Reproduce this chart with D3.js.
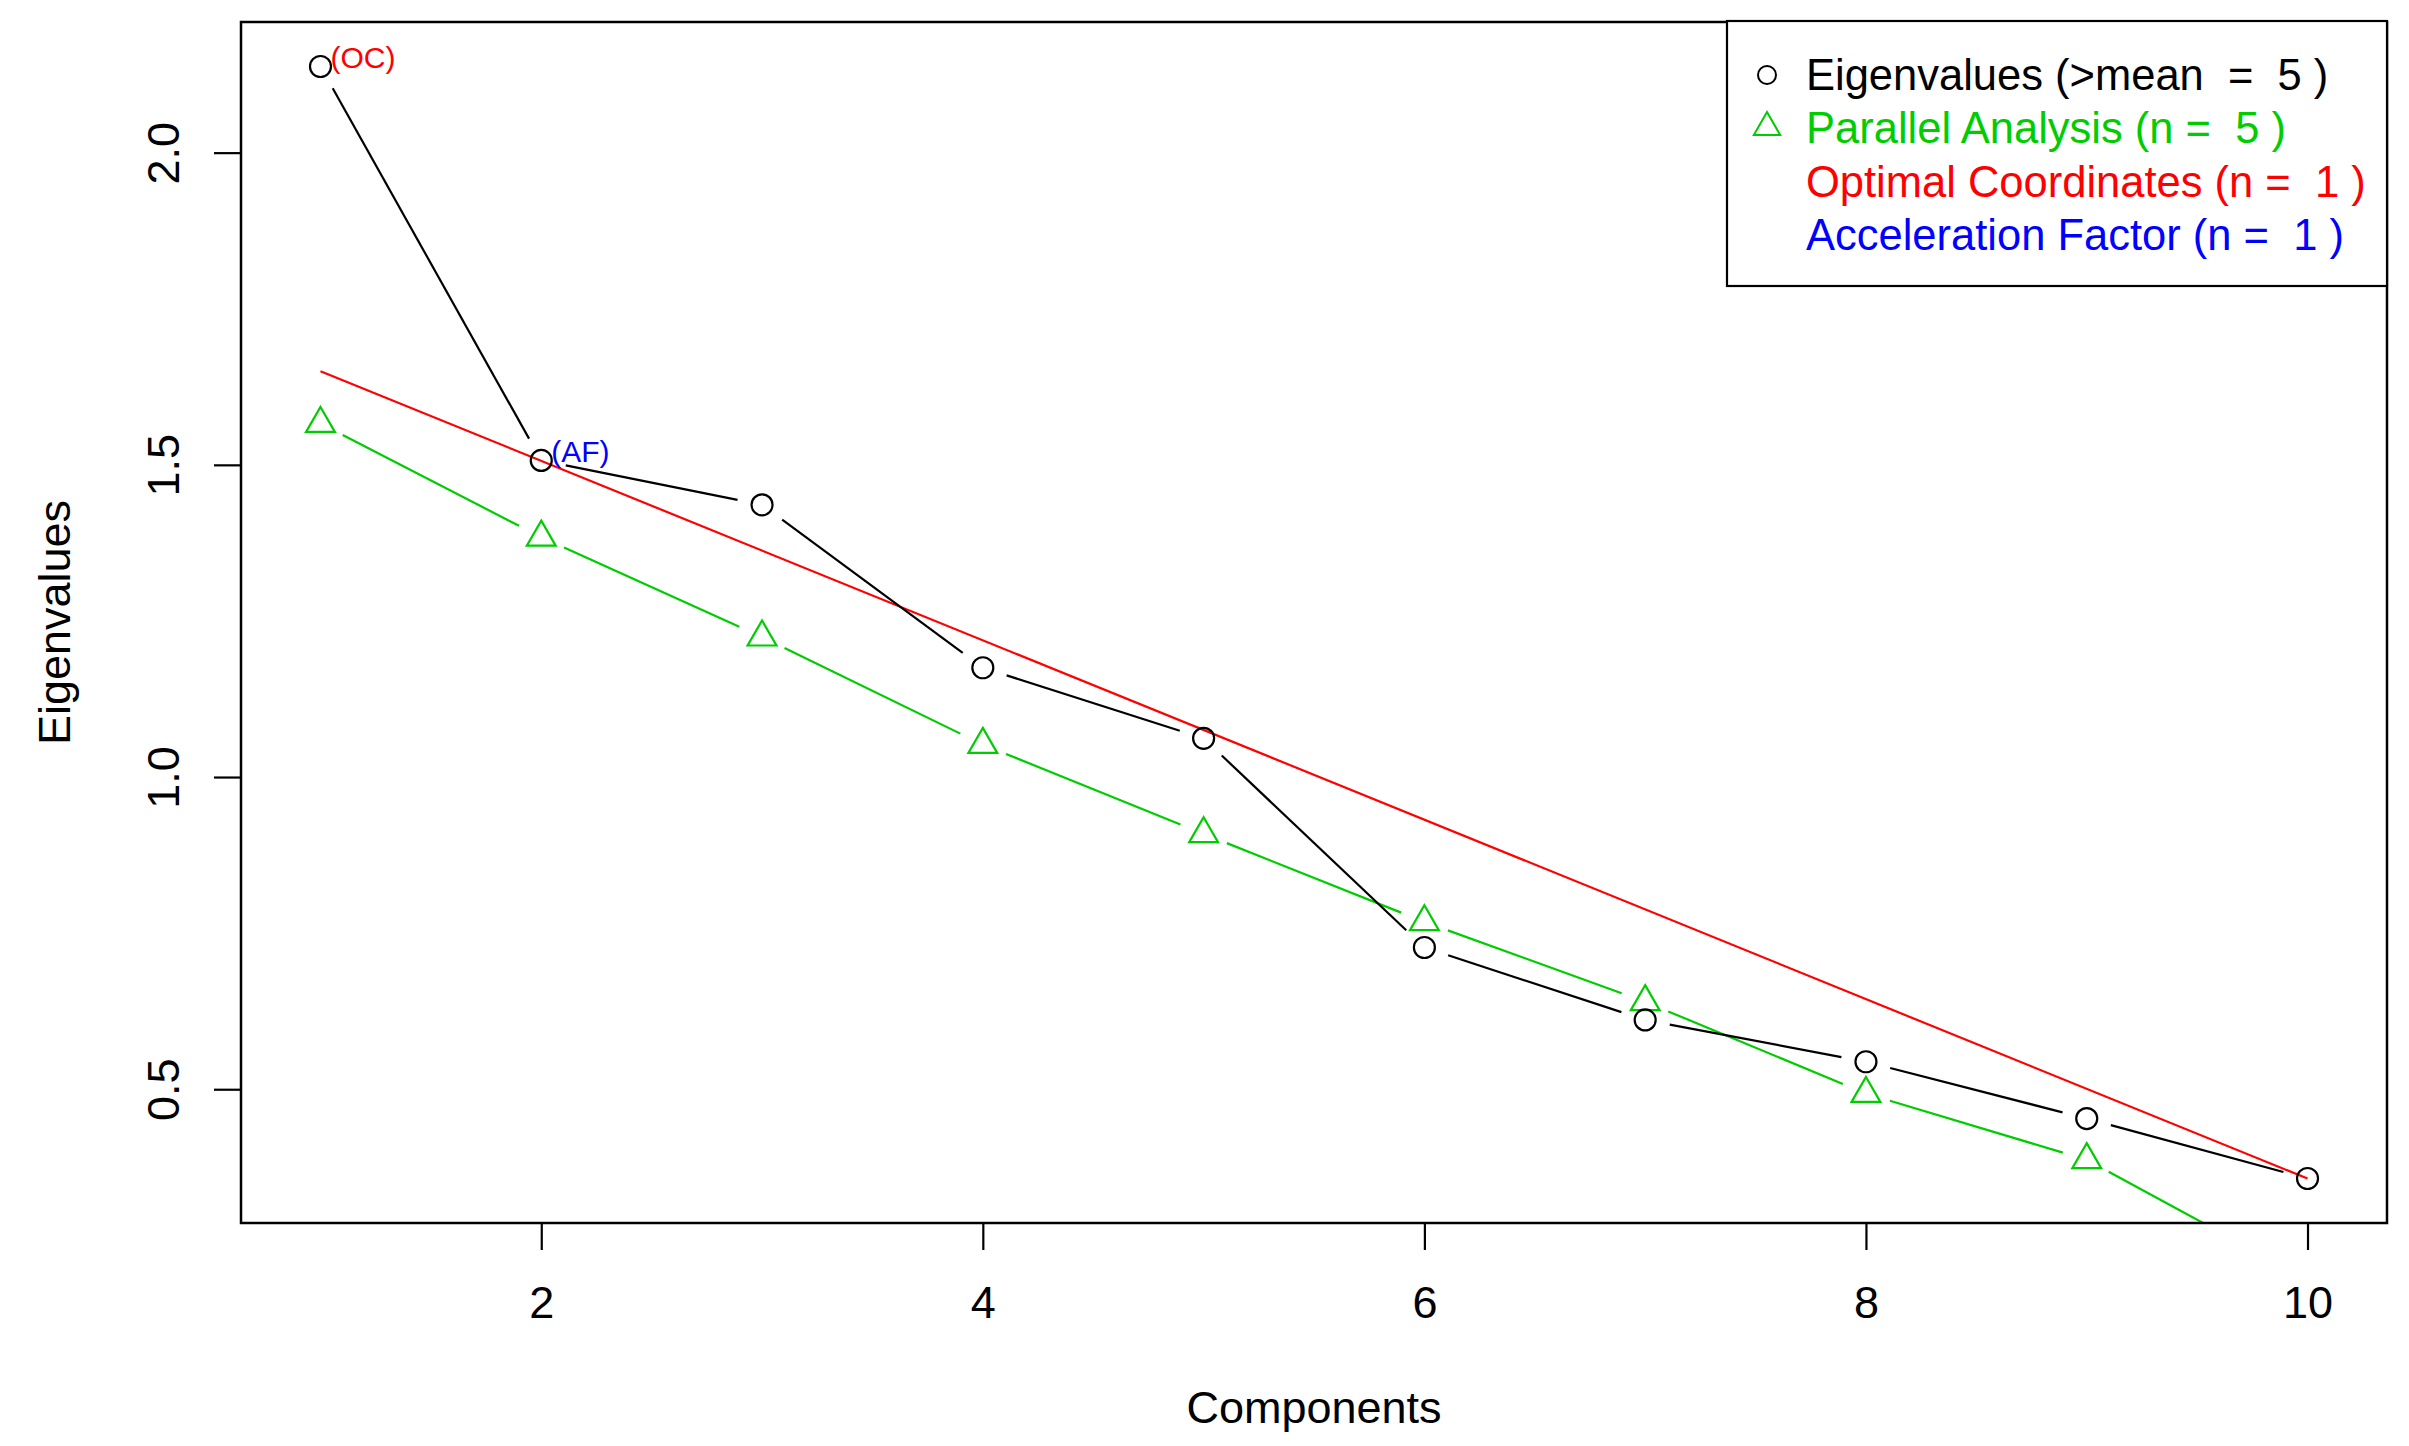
<!DOCTYPE html>
<html>
<head>
<meta charset="utf-8">
<script src="https://cdn.jsdelivr.net/npm/d3@7"></script>
<style>
  body { margin: 0; background: #fff; }
  svg text { font-family: "Liberation Sans", Arial, Helvetica, sans-serif; white-space: pre; }
</style>
</head>
<body>
<script>
// scree plot data
var components = [1, 2, 3, 4, 5, 6, 7, 8, 9, 10];
var eigenvalues = [2.138, 1.507, 1.436, 1.175, 1.062, 0.727, 0.611, 0.544, 0.453, 0.357];
var parallelAnalysis = [1.566, 1.384, 1.224, 1.052, 0.909, 0.768, 0.640, 0.493, 0.387, 0.195];
var ocComponents = [1, 10];
var ocValues = [1.650, 0.357];
var xTicks = [2, 4, 6, 8, 10];
var yTicks = [0.5, 1.0, 1.5, 2.0];
var legendLabels = [
  "Eigenvalues (>mean  =  5 )",
  "Parallel Analysis (n =  5 )",
  "Optimal Coordinates (n =  1 )",
  "Acceleration Factor (n =  1 )"
];
var legendColors = ["#000000", "#00cd00", "#ff0000", "#0000ff"];
var legendSymbols = ["circle", "triangle", null, null];

var width = 2409,
    height = 1446;
var plot = {left: 241, top: 22, right: 2387, bottom: 1223};

var svg = d3.select("body").append("svg")
  .attr("width", width)
  .attr("height", height);

// R style: data range padded 4% on each side
var xr = d3.extent(components), yr = d3.extent(eigenvalues);
var xpad = (xr[1] - xr[0]) * 0.04, ypad = (yr[1] - yr[0]) * 0.04;

var x = d3.scaleLinear()
  .domain([xr[0] - xpad, xr[1] + xpad])
  .range([plot.left, plot.right]);
var y = d3.scaleLinear()
  .domain([yr[0] - ypad, yr[1] + ypad])
  .range([plot.bottom, plot.top]);

svg.append("clipPath").attr("id", "clip")
  .append("rect")
  .attr("x", plot.left).attr("y", plot.top)
  .attr("width", plot.right - plot.left)
  .attr("height", plot.bottom - plot.top);

var g = svg.append("g").attr("clip-path", "url(#clip)");

// type="b" lines: segments with a gap around each point
function gappedSegments(xs, ys, gap) {
  var segs = [];
  for (var i = 0; i < xs.length - 1; i++) {
    var x0 = x(xs[i]), y0 = y(ys[i]), x1 = x(xs[i + 1]), y1 = y(ys[i + 1]);
    var len = Math.hypot(x1 - x0, y1 - y0);
    if (len <= 2 * gap) continue;
    var ux = (x1 - x0) / len, uy = (y1 - y0) / len;
    segs.push([x0 + ux * gap, y0 + uy * gap, x1 - ux * gap, y1 - uy * gap]);
  }
  return segs;
}

// OC line
g.append("line")
  .attr("x1", x(ocComponents[0])).attr("y1", y(ocValues[0]))
  .attr("x2", x(ocComponents[1])).attr("y2", y(ocValues[1]))
  .attr("stroke", "#ff0000")
  .attr("stroke-width", 2.2);

// parallel analysis
g.selectAll(".pa-seg")
  .data(gappedSegments(components, parallelAnalysis, 25))
  .enter().append("line")
  .attr("class", "pa-seg")
  .attr("x1", function(d) { return d[0]; })
  .attr("y1", function(d) { return d[1]; })
  .attr("x2", function(d) { return d[2]; })
  .attr("y2", function(d) { return d[3]; })
  .attr("stroke", "#00cd00")
  .attr("stroke-width", 2.2);

var tri = d3.symbol().type(d3.symbolTriangle).size(360);

g.selectAll(".pa-pt")
  .data(components.map(function(c, i) { return [c, parallelAnalysis[i]]; }))
  .enter().append("path")
  .attr("class", "pa-pt")
  .attr("d", tri)
  .attr("transform", function(d) { return "translate(" + x(d[0]) + "," + y(d[1]) + ")"; })
  .attr("fill", "none")
  .attr("stroke", "#00cd00")
  .attr("stroke-width", 2.2);

// eigenvalues
g.selectAll(".ev-seg")
  .data(gappedSegments(components, eigenvalues, 25))
  .enter().append("line")
  .attr("class", "ev-seg")
  .attr("x1", function(d) { return d[0]; })
  .attr("y1", function(d) { return d[1]; })
  .attr("x2", function(d) { return d[2]; })
  .attr("y2", function(d) { return d[3]; })
  .attr("stroke", "#000")
  .attr("stroke-width", 2.2);

g.selectAll(".ev-pt")
  .data(components.map(function(c, i) { return [c, eigenvalues[i]]; }))
  .enter().append("circle")
  .attr("class", "ev-pt")
  .attr("cx", function(d) { return x(d[0]); })
  .attr("cy", function(d) { return y(d[1]); })
  .attr("r", 10.5)
  .attr("fill", "none")
  .attr("stroke", "#000")
  .attr("stroke-width", 2.2);

// (OC) and (AF) labels
svg.append("text")
  .attr("x", x(components[0]) + 10).attr("y", y(eigenvalues[0]) + 2)
  .attr("font-size", 30).attr("fill", "#ff0000")
  .text("(OC)");
svg.append("text")
  .attr("x", x(components[1]) + 10).attr("y", y(eigenvalues[1]) + 2)
  .attr("font-size", 30).attr("fill", "#0000ff")
  .text("(AF)");

// axes
var yAxis = svg.append("g")
  .attr("transform", "translate(" + plot.left + ",0)")
  .call(d3.axisLeft(y).tickValues(yTicks).tickFormat(d3.format(".1f")).tickSize(27));
yAxis.select(".domain").remove();
yAxis.selectAll("line").attr("stroke", "#000").attr("stroke-width", 2.2);
yAxis.selectAll("text")
  .attr("transform", "rotate(-90)")
  .attr("x", 0).attr("y", -62).attr("dy", null)
  .attr("text-anchor", "middle")
  .attr("font-size", 45)
  .attr("fill", "#000");

var xAxis = svg.append("g")
  .attr("transform", "translate(0," + plot.bottom + ")")
  .call(d3.axisBottom(x).tickValues(xTicks).tickSize(27));
xAxis.select(".domain").remove();
xAxis.selectAll("line").attr("stroke", "#000").attr("stroke-width", 2.2);
xAxis.selectAll("text")
  .attr("y", 95).attr("dy", null)
  .attr("font-size", 45)
  .attr("fill", "#000");

// frame
svg.append("rect")
  .attr("x", plot.left).attr("y", plot.top)
  .attr("width", plot.right - plot.left)
  .attr("height", plot.bottom - plot.top)
  .attr("fill", "none")
  .attr("stroke", "#000")
  .attr("stroke-width", 2.5);

// axis titles
svg.append("text")
  .attr("x", (plot.left + plot.right) / 2).attr("y", 1423)
  .attr("text-anchor", "middle")
  .attr("font-size", 45)
  .text("Components");
svg.append("text")
  .attr("transform", "translate(70," + (plot.top + plot.bottom) / 2 + ") rotate(-90)")
  .attr("text-anchor", "middle")
  .attr("font-size", 45)
  .text("Eigenvalues");

// legend
var legend = svg.append("g");
legend.append("rect")
  .attr("x", 1727).attr("y", 21)
  .attr("width", 660).attr("height", 265)
  .attr("fill", "#fff")
  .attr("stroke", "#000")
  .attr("stroke-width", 2.2);

var rows = legend.selectAll(".row")
  .data(legendLabels)
  .enter().append("g")
  .attr("class", "row")
  .attr("transform", function(d, i) { return "translate(0," + (90 + i * 53.3) + ")"; });

rows.append("text")
  .attr("x", 1806).attr("y", 0)
  .attr("font-size", 43.5)
  .attr("fill", function(d, i) { return legendColors[i]; })
  .text(function(d) { return d; });

rows.filter(function(d, i) { return legendSymbols[i] === "circle"; })
  .append("circle")
  .attr("cx", 1767).attr("cy", -15).attr("r", 9)
  .attr("fill", "none").attr("stroke", "#000").attr("stroke-width", 2);

rows.filter(function(d, i) { return legendSymbols[i] === "triangle"; })
  .append("path")
  .attr("d", d3.symbol().type(d3.symbolTriangle).size(300))
  .attr("transform", "translate(1767,-16)")
  .attr("fill", "none").attr("stroke", "#00cd00").attr("stroke-width", 2);
</script>
</body>
</html>
